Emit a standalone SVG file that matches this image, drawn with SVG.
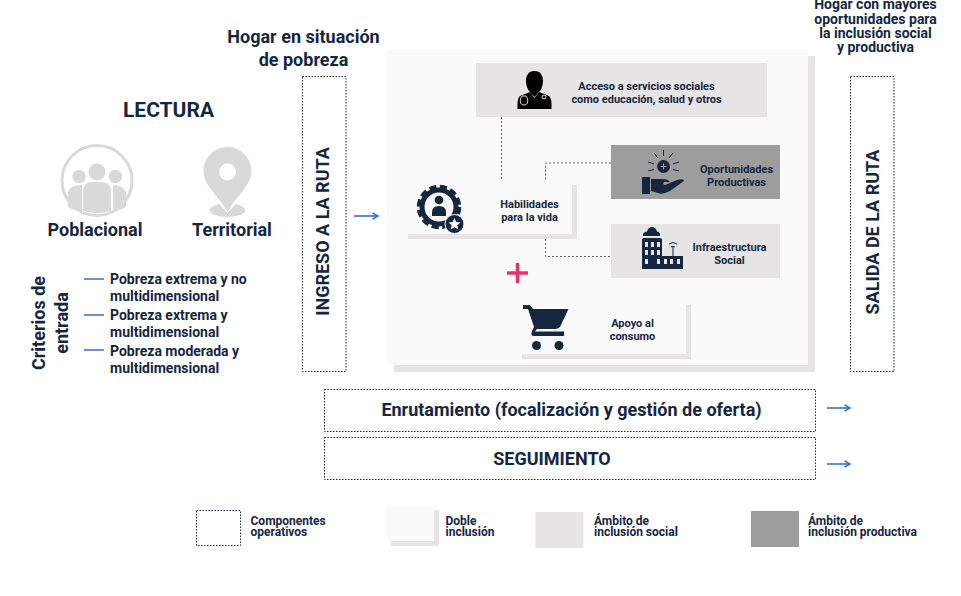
<svg xmlns="http://www.w3.org/2000/svg" width="961" height="596" viewBox="0 0 961 596">
<style>
text{font-family:Roboto,"Liberation Sans",sans-serif;font-weight:700;fill:#14273f}
.t11{font-size:11px}.t12{font-size:12px}.t14{font-size:14px}.t18{font-size:18px}.t21{font-size:21px}
.m{text-anchor:middle}
.dash{fill:none;stroke:#14273f;stroke-width:1;stroke-dasharray:1.5 1.5}
.conn{fill:none;stroke:#666;stroke-width:1;stroke-dasharray:2 2}
.blue{fill:none;stroke:#3a6bd8;stroke-width:1.6}
.soc{fill:#e6e4e5}.prod{fill:#9d9d9d}.bg{fill:#fafafa}
.ic{fill:#14273f}.gr{fill:#d9d9d9}
</style>
<defs>
<marker id="ah" markerWidth="9" markerHeight="9" refX="7.5" refY="4" orient="auto" markerUnits="userSpaceOnUse"><path d="M2 0.800L7.500 4L2 7.200" fill="none" stroke="#3a6bd8" stroke-width="1.500"/></marker>
</defs>
<rect width="961" height="596" fill="#fff"/>
<g id="doble-inclusion">
<rect class="soc" x="394" y="56" width="421" height="316"/>
<rect class="bg" x="387" y="49" width="421" height="316"/>
</g>
<g id="connectors">
<path class="conn" d="M501.500 117V179"/>
<path class="conn" d="M611 163H545.500V180"/>
<path class="conn" d="M545.500 239V256.500H611"/>
<path class="blue" marker-end="url(#ah)" d="M354 216H378"/>
<path class="blue" marker-end="url(#ah)" d="M827 408H850"/>
<path class="blue" marker-end="url(#ah)" d="M827 464H850"/>
<path class="blue" d="M84 279H104M84 315H104M84 350H104"/>
</g>
<g id="titulo-ingreso"><text class="t18 m" x="303.500" y="43">Hogar en situación</text><text class="t18 m" x="303.500" y="66">de pobreza</text></g>
<g id="titulo-salida"><text class="t14 m" x="875.500" y="9">Hogar con mayores</text><text class="t14 m" x="875.500" y="24">oportunidades para</text><text class="t14 m" x="875.500" y="38">la inclusión social</text><text class="t14 m" x="875.500" y="52">y productiva</text></g>
<g id="lectura"><text class="t21 m" x="168.500" y="117">LECTURA</text></g>
<g id="poblacional">
<circle cx="97" cy="180.500" r="35" fill="#fff" stroke="#d9d9d9" stroke-width="3"/>
<circle class="gr" cx="97" cy="172" r="8.500"/><circle class="gr" cx="79" cy="176.500" r="6.800"/><circle class="gr" cx="115.500" cy="176.500" r="6.800"/>
<path class="gr" d="M68 207V192Q70 185 82 185V211Q73 210 68 207ZM126 207V192Q124 186 113 185V211Q121 210 126 207Z"/>
<path class="gr" d="M83 211V192Q83 182 92 182H102Q111 182 111 192V211Q97 215 83 211Z"/>
<text class="t18 m" x="95" y="235.500">Poblacional</text>
</g>
<g id="territorial">
<path class="gr" d="M227.500 147C214 147 203.500 158 203.500 171C203.500 186 219 196 227.500 212C236 196 251.500 186 251.500 171C251.500 158 241 147 227.500 147Z"/>
<circle cx="227.500" cy="172" r="8.500" fill="#fff"/>
<path class="gr" d="M219.500 204C213 205.500 209.500 208 209.500 210.500C209.500 214 218 217 227.500 217C237 217 245.500 214 245.500 210.500C245.500 208 242 205.500 235.500 204L227.500 213Z"/>
<text class="t18 m" x="232" y="235.500">Territorial</text>
</g>
<g id="criterios">
<text class="t18 m" transform="translate(45 323) rotate(-90)">Criterios de</text>
<text class="t18 m" transform="translate(68 323) rotate(-90)">entrada</text>
<text class="t14" x="110" y="283.500">Pobreza extrema y no</text><text class="t14" x="110" y="300.500">multidimensional</text>
<text class="t14" x="110" y="319.500">Pobreza extrema y</text><text class="t14" x="110" y="336.500">multidimensional</text>
<text class="t14" x="110" y="355.500">Pobreza moderada y</text><text class="t14" x="110" y="372.500">multidimensional</text>
</g>
<g id="ingreso"><rect class="dash" x="302.500" y="76.500" width="43.500" height="295"/><text class="t18 m" transform="translate(329 231.500) rotate(-90)">INGRESO A LA RUTA</text></g>
<g id="salida"><rect class="dash" x="850.500" y="76.500" width="43.500" height="295"/><text class="t18 m" transform="translate(878.500 232) rotate(-90)">SALIDA DE LA RUTA</text></g>
<g id="acceso">
<rect class="soc" x="476" y="63" width="291" height="54"/>
<path d="M534.500 71C528 71 526 76 526 81C526 86 528 90 530 92L534.500 97L539 92C541 90 543 86 543 81C543 76 541 71 534.500 71Z"/>
<path d="M530 92L534.500 98L539 92L548 95.500Q551.500 97 551.500 104V109H517.500V104Q517.500 97 521 95.500Z"/>
<path d="M522 96C519 100 520 105 524 105C528 105 529 100 526 96Z" fill="none" stroke="#e6e4e5"/><circle cx="544" cy="97" r="2" fill="none" stroke="#e6e4e5"/>
<text class="t11 m" x="646.500" y="90">Acceso a servicios sociales</text><text class="t11 m" x="646.500" y="103">como educación, salud y otros</text>
</g>
<g id="oportunidades">
<rect class="prod" x="611" y="145" width="169" height="54"/>
<circle class="ic" cx="663.500" cy="166.500" r="6.500"/>
<path d="M663.500 163.500V169.500M660.500 166.500H666.500" stroke="#9d9d9d" stroke-width="1"/>
<path d="M663.500 150V156M654 153L658 158M673 153L669 158M648 162L654 164M679 162L673 164M648 171L654 169.500M679 171L673 169.500" stroke="#14273f" stroke-width="1" fill="none"/>
<path class="ic" d="M642 177H650V194H642ZM651 179H662Q668 179 670 182H664Q662 184 665 185L677 180Q684 178 684 181L670 191Q662 195 658 193L651 191Z"/>
<text class="t11 m" x="736.500" y="173">Oportunidades</text><text class="t11 m" x="736.500" y="186">Productivas</text>
</g>
<g id="infraestructura">
<rect class="soc" x="611" y="224" width="169" height="54"/>
<path class="ic" d="M643 236Q642.500 232 647 231.500Q648 227 652 227Q656 227 657 231.500Q660.500 232 660 236Z"/>
<path class="ic" d="M642 240Q642 238 644 238H660Q662 238 662 240V256H683V269H642Z"/>
<path fill="#e6e4e5" d="M645 242H648V247H645ZM651 242H654V247H651ZM657 242H660V247H657ZM645 250H648V255H645ZM651 250H654V255H651ZM657 250H660V255H657ZM645 259H648V264H645ZM657 259H660V264H657ZM664 259H667V264H664ZM670 259H673V264H670ZM677 259H680V264H677Z"/>
<path d="M673 256V247M669 244Q673 241 677 244M671 247Q673 245.500 675 247" stroke="#14273f" fill="none"/>
<text class="t11 m" x="729.500" y="251">Infraestructura</text><text class="t11 m" x="729.500" y="264">Social</text>
</g>
<g id="habilidades">
<path class="soc" d="M572 185H577V239H408V234H572Z"/>
<circle cx="439" cy="207" r="17" fill="none" stroke="#14273f" stroke-width="5"/>
<circle cx="439" cy="207" r="20" fill="none" stroke="#14273f" stroke-width="4.500" stroke-dasharray="7 3.500"/>
<circle class="ic" cx="439" cy="200" r="4.300"/>
<path class="ic" d="M432 216V212Q432 206 439 206Q446 206 446 212V216Z"/>
<circle class="ic" cx="454.500" cy="224" r="9.500" stroke="#fafafa"/>
<path fill="#fff" d="M454.500 218L456.300 222L460.500 222.400L457.300 225.200L458.300 229.500L454.500 227.200L450.700 229.500L451.700 225.200L448.500 222.400L452.700 222Z"/>
<text class="t11 m" x="529.500" y="208">Habilidades</text><text class="t11 m" x="529.500" y="221">para la vida</text>
</g>
<g id="mas"><path d="M507 273H528M517.500 263V283" stroke="#e8336d" stroke-width="3.500" fill="none"/></g>
<g id="apoyo">
<path class="soc" d="M686 305H691V359H522V354H686Z"/>
<path class="ic" d="M523 305H530L533 309H568.500L560 327Q558 329 555 329H537L535 331.500H564V336H534Q530 336 532 331L534 327L528 309H523Z"/>
<circle class="ic" cx="536.500" cy="345.500" r="4.500"/><circle class="ic" cx="559" cy="345.500" r="4.500"/>
<text class="t11 m" x="632.500" y="327">Apoyo al</text><text class="t11 m" x="632.500" y="340">consumo</text>
</g>
<g id="enrutamiento"><rect class="dash" x="324.500" y="389.500" width="491" height="42"/><text class="t18 m" x="571.500" y="416">Enrutamiento (focalización y gestión de oferta)</text></g>
<g id="seguimiento"><rect class="dash" x="324.500" y="437.500" width="491" height="42"/><text class="t18 m" x="552" y="465">SEGUIMIENTO</text></g>
<g id="leyenda-componentes"><rect class="dash" x="196.500" y="510.500" width="44" height="35"/><text class="t12" x="250.500" y="525">Componentes</text><text class="t12" x="250.500" y="536">operativos</text></g>
<g id="leyenda-doble"><rect class="soc" x="391" y="510" width="48" height="36"/><rect class="bg" x="386" y="506" width="48" height="35"/><text class="t12" x="445.500" y="525">Doble</text><text class="t12" x="445.500" y="536">inclusión</text></g>
<g id="leyenda-social"><rect class="soc" x="535.500" y="512" width="48" height="36"/><text class="t12" x="594" y="525">Ámbito de</text><text class="t12" x="594" y="536">inclusión social</text></g>
<g id="leyenda-productiva"><rect class="prod" x="751" y="511" width="48" height="36"/><text class="t12" x="808" y="525">Ámbito de</text><text class="t12" x="808" y="536">inclusión productiva</text></g>
</svg>
